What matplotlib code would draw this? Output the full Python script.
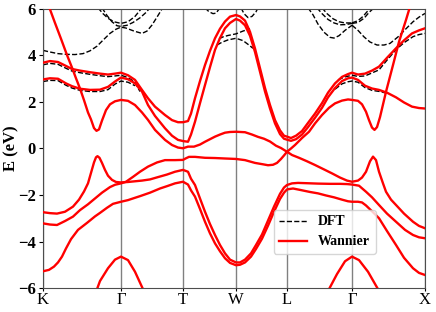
import numpy as np
import matplotlib.pyplot as plt

plt.rcParams['font.family'] = ['Liberation Serif', 'DejaVu Serif']
plt.rcParams['axes.unicode_minus'] = True

# high-symmetry points along the path
kticks = [0.00, 0.78, 1.40, 1.93, 2.44, 3.09, 3.82]
klabels = ['K', 'Γ', 'T', 'W', 'L', 'Γ', 'X']
yticks = [-6, -4, -2, 0, 2, 4, 6]

# ---- Wannier bands ----
wan1_k = [0, .07, .15, .23, .29, .37, .47, .57, .65, .72, .78,
          .85, .92, .99, 1.05, 1.12, 1.22, 1.29, 1.35, 1.40,
          1.45, 1.48, 1.52, 1.57, 1.62, 1.67, 1.72, 1.77, 1.82, 1.87, 1.93,
          1.97, 2.02, 2.07, 2.12, 2.17, 2.22, 2.27, 2.32, 2.37, 2.41, 2.44,
          2.48, 2.53, 2.59, 2.65, 2.72, 2.79, 2.85, 2.92, 2.99, 3.05, 3.09,
          3.15, 3.22, 3.29, 3.36, 3.44, 3.53, 3.61, 3.69, 3.76, 3.82]
wan1_e = [3.69, 3.76, 3.72, 3.55, 3.42, 3.35, 3.28, 3.22, 3.18, 3.22, 3.26,
          3.15, 2.95, 2.52, 2.16, 1.8, 1.44, 1.22, 1.13, 1.13,
          1.18, 1.5, 2.16, 2.9, 3.59, 4.2, 4.74, 5.15, 5.46, 5.67, 5.74,
          5.68, 5.5, 5.02, 4.3, 3.45, 2.6, 1.87, 1.22, 0.78, 0.55, 0.51,
          0.45, 0.55, 0.75, 1.1, 1.5, 1.95, 2.4, 2.8, 3.08, 3.2, 3.26,
          3.18, 3.22, 3.35, 3.52, 3.9, 4.31, 4.65, 4.95, 5.08, 5.17]

wan2_k = wan1_k
wan2_e = [2.97, 3.02, 3.0, 2.8, 2.68, 2.57, 2.52, 2.53, 2.65, 2.88, 3.05,
          2.98, 2.8, 2.45, 1.87, 1.4, 0.87, 0.55, 0.37, 0.32,
          0.29, 0.6, 1.15, 1.95, 2.73, 3.5, 4.24, 4.75, 5.17, 5.4, 5.57,
          5.5, 5.3, 4.85, 4.15, 3.3, 2.45, 1.72, 1.08, 0.62, 0.42, 0.38,
          0.33, 0.4, 0.6, 0.92, 1.32, 1.75, 2.2, 2.6, 2.9, 3.02, 3.05,
          2.95, 2.7, 2.58, 2.52, 2.4, 2.2, 1.98, 1.8, 1.74, 1.72]

wan3_k = [.06, .12, .18, .24, .29, .33, .37, .41, .45, .48, .51, .535, .56, .59, .63, .67, .72, .78,
          .85, .92, .99, 1.05, 1.12, 1.22, 1.29, 1.35, 1.40,
          1.45, 1.51, 1.57, 1.62, 1.67, 1.72, 1.77, 1.82, 1.87, 1.93,
          2.02, 2.09, 2.15, 2.21, 2.27, 2.33, 2.38, 2.41, 2.44,
          2.48, 2.52, 2.59, 2.66, 2.72, 2.79, 2.86, 2.92, 2.99, 3.05, 3.09,
          3.15, 3.19, 3.23, 3.26, 3.29, 3.315, 3.34, 3.37, 3.43, 3.50, 3.56, 3.63, 3.67]
wan3_e = [6.1, 5.4, 4.72, 4.02, 3.48, 3.02, 2.58, 2.08, 1.55, 1.25, 0.88, 0.76, 0.82, 1.2, 1.65, 1.9, 2.03, 2.09,
          2.05, 1.87, 1.55, 1.23, 0.8, 0.37, 0.15, 0.04, 0.01,
          0.08, 0.08, 0.17, 0.29, 0.4, 0.51, 0.6, 0.68, 0.71, 0.72,
          0.7, 0.6, 0.5, 0.42, 0.3, 0.12, 0.02, -0.06, -0.14,
          0.0, 0.15, 0.45, 0.72, 1.08, 1.44, 1.75, 1.94, 2.06, 2.11, 2.09,
          2.05, 1.9, 1.58, 1.22, 0.9, 0.8, 0.92, 1.35, 2.44, 3.59, 4.59, 5.53, 6.1]

wan4_k = [0, .07, .14, .22, .30, .36, .41, .45, .48, .51, .53, .545, .565, .59, .62, .65, .69, .73, .78,
          .85, .92, .99, 1.07, 1.15, 1.24, 1.32, 1.40,
          1.45, 1.48, 1.52, 1.57, 1.62, 1.67, 1.72, 1.77, 1.82, 1.87, 1.93,
          1.97, 2.02, 2.08, 2.13, 2.19, 2.25, 2.31, 2.37, 2.41, 2.44,
          2.49, 2.55, 2.62, 2.75, 2.87, 2.97, 3.04, 3.09,
          3.16, 3.23, 3.29, 3.36, 3.44, 3.53, 3.62, 3.70, 3.76, 3.82]
wan4_e = [-2.74, -2.78, -2.8, -2.72, -2.5, -2.2, -1.85, -1.5, -1.05, -0.6, -0.38, -0.33, -0.4, -0.62, -0.92, -1.17, -1.35, -1.44, -1.46,
          -1.44, -1.41, -1.38, -1.33, -1.23, -1.12, -1.0, -0.92,
          -1.0, -1.3, -1.57, -2.15, -2.72, -3.25, -3.72, -4.15, -4.51, -4.78, -4.9,
          -4.9, -4.78, -4.51, -4.15, -3.7, -3.1, -2.5, -1.95, -1.68, -1.57,
          -1.5, -1.48, -1.49, -1.51, -1.52, -1.52, -1.53, -1.55,
          -1.6, -1.86, -2.1, -2.43, -2.8, -3.15, -3.5, -3.72, -3.82, -3.86]

wan5_k = [0, .07, .14, .22, .30, .37, .45, .52, .59, .67, .72, .78,
          .83, .90, .97, 1.05, 1.14, 1.22, 1.32, 1.40,
          1.43, 1.46, 1.52, 1.62, 1.72, 1.82, 1.93,
          2.02, 2.12, 2.20, 2.25, 2.30, 2.34, 2.38, 2.41, 2.44,
          2.49, 2.56, 2.64, 2.72, 2.81, 2.89, 2.97, 3.04, 3.09,
          3.15, 3.19, 3.23, 3.27, 3.30, 3.33, 3.36, 3.40, 3.43, 3.48, 3.53, 3.61, 3.70, 3.76, 3.82]
wan5_e = [-3.22, -3.27, -3.29, -3.12, -2.93, -2.65, -2.4, -2.15, -1.9, -1.66, -1.56, -1.5,
          -1.43, -1.22, -1.0, -0.78, -0.6, -0.5, -0.5, -0.49,
          -0.42, -0.36, -0.36, -0.4, -0.41, -0.43, -0.45,
          -0.5, -0.62, -0.68, -0.72, -0.7, -0.62, -0.45, -0.3, -0.14,
          -0.28, -0.4, -0.55, -0.71, -0.9, -1.07, -1.25, -1.38, -1.43,
          -1.38, -1.25, -1.0, -0.55, -0.35, -0.5, -1.0, -1.5, -1.86, -2.2, -2.43, -2.8, -3.15, -3.33, -3.43]

wan6_k = [0, .06, .11, .15, .19, .23, .28, .35, .44, .52, .57, .64, .70, .78,
          .85, .92, .97, 1.07, 1.17, 1.24, 1.32, 1.40,
          1.45, 1.48, 1.52, 1.57, 1.62, 1.67, 1.72, 1.77, 1.82, 1.87, 1.93,
          1.97, 2.02, 2.08, 2.13, 2.19, 2.25, 2.31, 2.37, 2.41, 2.44,
          2.50, 2.57, 2.67, 2.75, 2.83, 2.91, 2.99, 3.05, 3.09,
          3.15, 3.19, 3.23, 3.29, 3.36, 3.44, 3.53, 3.61, 3.70, 3.76, 3.82]
wan6_e = [-5.28, -5.22, -5.08, -4.9, -4.65, -4.3, -3.9, -3.5, -3.2, -2.92, -2.77, -2.55, -2.38, -2.29,
          -2.22, -2.12, -2.05, -1.9, -1.72, -1.62, -1.5, -1.43,
          -1.55, -1.8, -2.07, -2.6, -3.15, -3.65, -4.08, -4.42, -4.72, -4.92, -5.02,
          -5.0, -4.9, -4.65, -4.32, -3.88, -3.32, -2.72, -2.17, -1.9, -1.76,
          -1.72, -1.78, -1.87, -1.93, -2.02, -2.1, -2.2, -2.27, -2.29,
          -2.29, -2.32, -2.45, -2.7, -3.0, -3.55, -4.15, -4.7, -5.15, -5.35, -5.44]

wan7_k = [.54, .57, .65, .72, .78, .85, .92, 1.00]
wan7_e = [-6.05, -5.7, -5.15, -4.78, -4.65, -4.8, -5.3, -6.05]
wan8_k = [2.86, 2.94, 3.02, 3.09, 3.16, 3.25, 3.35]
wan8_e = [-6.05, -5.4, -4.85, -4.65, -4.8, -5.3, -6.05]

# ---- DFT bands (visible parts) ----
dft1_k = [0, .07, .15, .23, .32, .40, .47, .54, .61, .67, .73, .78, .83, .91, .99, 1.04, 1.09, 1.14, 1.19, 1.21]
dft1_e = [4.22, 4.15, 4.08, 4.05, 4.04, 4.08, 4.2, 4.4, 4.7, 4.95, 5.13, 5.22, 5.18, 5.05, 4.95, 5.05, 5.31, 5.65, 6.0, 6.15]
dft2_k = [.55, .60, .65, .71, .78, .85, .92, .99]
dft2_e = [6.05, 5.8, 5.6, 5.45, 5.38, 5.45, 5.68, 6.05]
dft3_k = [.59, .64, .69, .74, .78, .84, .90, .97, 1.03, 1.07]
dft3_e = [6.05, 5.72, 5.45, 5.28, 5.25, 5.3, 5.42, 5.62, 5.85, 6.05]
dft4_k = [0, .07, .15, .23, .29, .37, .47, .57, .65, .72, .78, .85, .92, .97]
dft4_e = [3.6, 3.66, 3.62, 3.45, 3.33, 3.26, 3.19, 3.13, 3.09, 3.12, 3.15, 3.05, 2.85, 2.45]
dft5_k = [0, .07, .15, .23, .29, .37, .47, .57, .65, .72, .78, .85, .92]
dft5_e = [2.88, 2.93, 2.92, 2.72, 2.6, 2.5, 2.45, 2.45, 2.53, 2.77, 2.9, 2.85, 2.7]
dft6_k = [1.62, 1.66, 1.70, 1.73, 1.77]
dft6_e = [6.05, 5.88, 5.8, 5.82, 6.05]
dft7_k = [1.98, 2.01, 2.05, 2.09, 2.13, 2.15]
dft7_e = [6.05, 5.8, 5.63, 5.68, 5.88, 6.05]
dft8_k = [1.76, 1.80, 1.85, 1.93, 2.00, 2.07]
dft8_e = [4.72, 4.8, 4.86, 4.93, 5.05, 5.15]
dft9_k = [1.74, 1.79, 1.85, 1.93, 2.00, 2.05, 2.10]
dft9_e = [4.45, 4.57, 4.67, 4.74, 4.64, 4.48, 4.31]
dft10_k = [2.65, 2.70, 2.75, 2.81, 2.87, 2.91, 2.96, 3.02, 3.09]
dft10_e = [6.05, 5.75, 5.35, 5.0, 4.78, 4.75, 4.85, 5.08, 5.3]
dft11_k = [2.74, 2.79, 2.85, 2.91, 2.97, 3.03, 3.09]
dft11_e = [6.05, 5.8, 5.55, 5.4, 5.32, 5.33, 5.38]
dft12_k = [2.79, 2.84, 2.90, 2.96, 3.02, 3.09]
dft12_e = [6.05, 5.8, 5.58, 5.45, 5.4, 5.4]
dft13_k = [3.09, 3.15, 3.20, 3.24, 3.28]
dft13_e = [5.4, 5.5, 5.68, 5.88, 6.05]
dft14_k = [3.09, 3.15, 3.21, 3.26, 3.31]
dft14_e = [5.38, 5.42, 5.6, 5.85, 6.05]
dft15_k = [3.09, 3.15, 3.21, 3.27, 3.34, 3.41, 3.47, 3.55, 3.63, 3.70, 3.76, 3.82]
dft15_e = [5.3, 5.08, 4.8, 4.58, 4.45, 4.45, 4.52, 4.8, 5.15, 5.45, 5.65, 5.81]
dft16_k = [2.95, 3.02, 3.09, 3.15, 3.22, 3.29, 3.36, 3.44, 3.53, 3.61, 3.70, 3.76, 3.82]
dft16_e = [2.95, 3.08, 3.15, 3.1, 3.12, 3.25, 3.38, 3.8, 4.25, 4.55, 4.81, 4.9, 4.95]
dft17_k = [2.92, 2.99, 3.05, 3.09, 3.15, 3.22, 3.29, 3.37, 3.46]
dft17_e = [2.55, 2.78, 2.87, 2.9, 2.85, 2.62, 2.5, 2.45, 2.35]

wannier = [(wan1_k, wan1_e), (wan2_k, wan2_e), (wan3_k, wan3_e), (wan4_k, wan4_e),
           (wan5_k, wan5_e), (wan6_k, wan6_e), (wan7_k, wan7_e), (wan8_k, wan8_e)]
dft = [(dft1_k, dft1_e), (dft2_k, dft2_e), (dft3_k, dft3_e), (dft4_k, dft4_e),
       (dft5_k, dft5_e), (dft6_k, dft6_e), (dft7_k, dft7_e), (dft8_k, dft8_e),
       (dft9_k, dft9_e), (dft10_k, dft10_e), (dft11_k, dft11_e), (dft12_k, dft12_e),
       (dft13_k, dft13_e), (dft14_k, dft14_e), (dft15_k, dft15_e), (dft16_k, dft16_e),
       (dft17_k, dft17_e)]

fig = plt.figure(figsize=(4.36, 3.12), dpi=100)
ax = fig.add_axes([0.0986, 0.0769, 0.8762, 0.8943])

for kk in kticks:
    ax.axvline(kk, color='grey', lw=1.0, zorder=1)

for i, (k, e) in enumerate(dft):
    ax.plot(k, e, color='black', ls='--', lw=1.0, zorder=2,
            label='DFT' if i == 0 else None)
for i, (k, e) in enumerate(wannier):
    ax.plot(k, e, color='red', lw=1.7, zorder=3,
            label='Wannier' if i == 0 else None)

ax.set_xlim(kticks[0], kticks[-1])
ax.set_ylim(-6, 6)
ax.set_xticks(kticks)
ax.set_xticklabels(klabels, fontsize=12)
ax.tick_params(axis='x', length=2.5, pad=0.5)
ax.tick_params(axis='y', length=3, pad=2)
ax.set_yticks(yticks)
ax.set_yticklabels([str(v).replace('-', '\u2212') for v in yticks], fontsize=12, fontweight='bold')
ax.set_ylabel('E (eV)', fontsize=12, fontweight='bold')
ax.yaxis.set_label_coords(-0.062, 0.5)
for s in ax.spines.values():
    s.set_color('0.3')

ax.legend(loc='center', bbox_to_anchor=(0.737, 0.201),
          prop={'weight': 'bold', 'size': 10})

fig.savefig('out.png', dpi=100)
